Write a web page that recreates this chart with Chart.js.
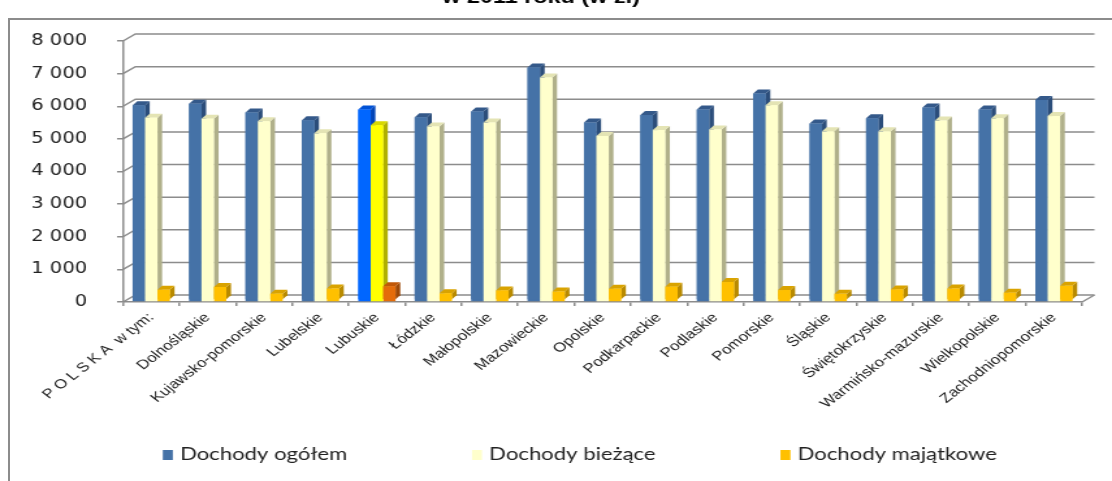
<!DOCTYPE html>
<html>
<head>
<meta charset="utf-8">
<script src="https://cdn.jsdelivr.net/npm/chart.js@4/dist/chart.umd.min.js"></script>
<style>
  html, body { margin: 0; padding: 0; background: #fff; overflow: hidden; }
  #frame { position: absolute; left: 8px; top: 18px; width: 1130px; height: 520px; border: 2px solid #8c8c8c; }
  #chart { position: absolute; left: 0; top: -13px; transform: scaleX(1.3006); transform-origin: 0 0; }
</style>
</head>
<body>
<div id="frame"></div>
<canvas id="chart" width="869" height="494"></canvas>
<script>
const categories = ['P O L S K A  w tym:', 'Dolnośląskie', 'Kujawsko-pomorskie', 'Lubelskie', 'Lubuskie',
  'Łódzkie', 'Małopolskie', 'Mazowieckie', 'Opolskie', 'Podkarpackie', 'Podlaskie', 'Pomorskie',
  'Śląskie', 'Świętokrzyskie', 'Warmińsko-mazurskie', 'Wielkopolskie', 'Zachodniopomorskie'];

const dochodyOgolem = [6030, 6080, 5810, 5570, 5900, 5660, 5840, 7190, 5500, 5730, 5900, 6390, 5470, 5630, 5960, 5900, 6190];
const dochodyBiezace = [5650, 5620, 5540, 5170, 5420, 5380, 5500, 6880, 5090, 5270, 5290, 6030, 5230, 5230, 5560, 5630, 5700];
const dochodyMajatkowe = [375, 460, 255, 410, 480, 265, 355, 320, 405, 470, 610, 365, 250, 385, 410, 285, 495];

const seriesNames = ['Dochody ogółem', 'Dochody bieżące', 'Dochody majątkowe'];
const yTicks = [0, 1000, 2000, 3000, 4000, 5000, 6000, 7000, 8000];
const highlighted = 'Lubuskie';

// front / side / top colours, normal and highlighted
const palette = [
  { front: '#4572a7', side: '#2b4d7a', top: '#34598a', hiFront: '#0066ff', hiSide: '#0044b8', hiTop: '#0052d6' },
  { front: '#ffffcc', side: '#b0b08a', top: '#e4e4b4', hiFront: '#ffff00', hiSide: '#b0b000', hiTop: '#d8d800' },
  { front: '#ffc000', side: '#b88a00', top: '#d9a300', hiFront: '#e46c0a', hiSide: '#9c4806', hiTop: '#c05808' }
];

const GRID = '#8c8c8c';
const WALL_DX = 9.5, WALL_DY = 7;
const BAR_DX = 3.6, BAR_DY = 4;

function colourFor(seriesIdx, key) {
  const p = palette[seriesIdx];
  const hiKey = 'hi' + key[0].toUpperCase() + key.slice(1);
  return categories.map(c => c === highlighted ? p[hiKey] : p[key]);
}

function makeDataset(idx, values) {
  return {
    label: seriesNames[idx],
    data: values,
    backgroundColor: colourFor(idx, 'front'),
    sideColor: colourFor(idx, 'side'),
    topColor: colourFor(idx, 'top'),
    legendColor: palette[idx].front,
    borderWidth: 0
  };
}

const depthPlugin = {
  id: 'depth',
  beforeDatasetsDraw(chart) {
    const { ctx, chartArea: a, scales: { y } } = chart;
    ctx.save();
    ctx.strokeStyle = GRID;
    ctx.lineWidth = 1.5;
    y.ticks.forEach(t => {
      const py = y.getPixelForValue(t.value);
      ctx.beginPath();
      ctx.moveTo(a.left, py);
      ctx.lineTo(a.left + WALL_DX, py - WALL_DY);
      ctx.lineTo(a.right + WALL_DX, py - WALL_DY);
      ctx.stroke();
    });
    ctx.beginPath();
    ctx.moveTo(a.right, a.bottom);
    ctx.lineTo(a.right + WALL_DX, a.bottom - WALL_DY);
    ctx.stroke();
    ctx.restore();
  },
  afterDatasetsDraw(chart) {
    const { ctx } = chart;
    const metas = chart.data.datasets.map((d, i) => chart.getDatasetMeta(i));
    ctx.save();
    categories.forEach((c, i) => {
      metas.forEach((meta, d) => {
        const ds = chart.data.datasets[d];
        const el = meta.data[i];
        const l = el.x - el.width / 2, r = el.x + el.width / 2;
        const top = el.y, base = el.base - 2;
        // side
        ctx.fillStyle = ds.sideColor[i];
        ctx.beginPath();
        ctx.moveTo(r, top); ctx.lineTo(r + BAR_DX, top - BAR_DY);
        ctx.lineTo(r + BAR_DX, base - BAR_DY); ctx.lineTo(r, base);
        ctx.closePath(); ctx.fill();
        // top
        ctx.fillStyle = ds.topColor[i];
        ctx.beginPath();
        ctx.moveTo(l, top); ctx.lineTo(l + BAR_DX, top - BAR_DY);
        ctx.lineTo(r + BAR_DX, top - BAR_DY); ctx.lineTo(r, top);
        ctx.closePath(); ctx.fill();
        // front
        ctx.fillStyle = ds.backgroundColor[i];
        ctx.fillRect(l, top, r - l, base - top);
      });
    });
    ctx.restore();
  },
  afterDraw(chart) {
    // legend along the bottom
    const { ctx } = chart;
    const items = chart.data.datasets;
    ctx.save();
    ctx.font = '17px Lato';
    ctx.textBaseline = 'middle';
    const box = 7.7, gapText = 5.5, gapItem = 96;
    const widths = items.map(ds => box + gapText + ctx.measureText(ds.label).width);
    const total = widths.reduce((s, w) => s + w, 0) + gapItem * (items.length - 1);
    let x = chart.width * 0.513 - total / 2;
    const cy = chart.height - 26;
    items.forEach((ds, i) => {
      ctx.fillStyle = ds.legendColor;
      ctx.fillRect(x, cy - 5, box, 10);
      ctx.fillStyle = '#222';
      ctx.fillText(ds.label, x + box + gapText, cy);
      x += widths[i] + gapItem;
    });
    ctx.restore();
  }
};

Chart.defaults.color = '#222';

new Chart(document.getElementById('chart'), {
  type: 'bar',
  data: {
    labels: categories,
    datasets: [
      makeDataset(0, dochodyOgolem),
      makeDataset(1, dochodyBiezace),
      makeDataset(2, dochodyMajatkowe)
    ]
  },
  options: {
    responsive: false,
    animation: false,
    datasets: { bar: { categoryPercentage: 0.66, barPercentage: 1 } },
    layout: { padding: { left: 0, right: 37, top: 0, bottom: 50 } },
    plugins: {
      legend: { display: false },
      tooltip: { enabled: false },
      title: {
        display: true,
        text: 'w 2011 roku (w zł)',
        color: '#000',
        font: { family: 'Liberation Sans', size: 18, weight: 'bold' },
        padding: { top: 0, bottom: 32.4 }
      }
    },
    scales: {
      x: {
        afterFit: s => { s.height = 129; },
        grid: { display: true, drawOnChartArea: false, drawTicks: true, tickLength: 4, color: GRID, lineWidth: 1.5 },
        border: { display: true, color: GRID, width: 1.5 },
        ticks: {
          autoSkip: false, minRotation: 45, maxRotation: 45, padding: 4,
          font: { family: 'Liberation Sans', size: 13 }
        }
      },
      y: {
        min: 0,
        max: 8000,
        afterFit: s => { s.width = 94.6; },
        afterBuildTicks: s => { s.ticks = yTicks.map(v => ({ value: v })); },
        grid: { display: true, drawOnChartArea: false, drawTicks: true, tickLength: 4.6, color: GRID, lineWidth: 1.5 },
        border: { display: true, color: GRID, width: 1.5 },
        ticks: {
          padding: 23,
          font: { family: 'DejaVu Sans', size: 15 },
          callback: v => v.toLocaleString('en-US').replace(/,/g, ' ')
        }
      }
    }
  },
  plugins: [depthPlugin]
});
</script>
</body>
</html>
